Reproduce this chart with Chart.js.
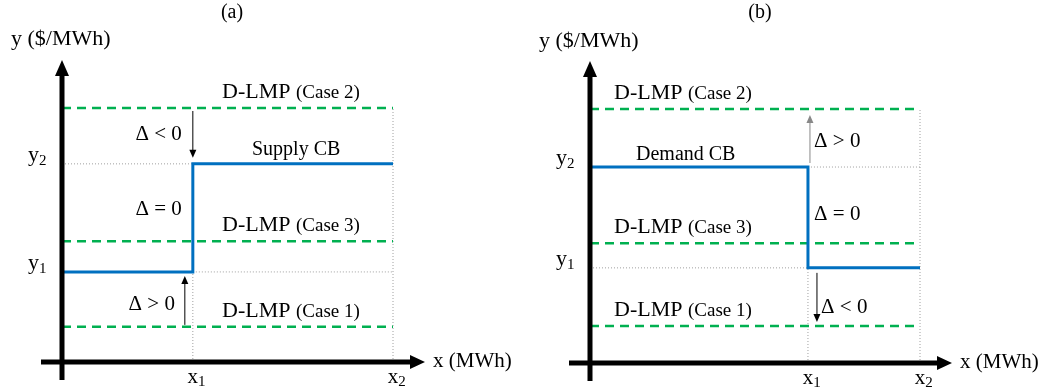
<!DOCTYPE html>
<html>
<head>
<meta charset="utf-8">
<script src="https://cdn.jsdelivr.net/npm/chart.js@4.4.0/dist/chart.umd.min.js"></script>
<style>
html, body { margin: 0; padding: 0; background: #fff; }
#wrap { position: relative; width: 1056px; height: 391px; }
canvas { position: absolute; top: 0; }
#panelA { left: 0; }
#panelB { left: 528px; }
</style>
</head>
<body>
<div id="wrap">
  <canvas id="panelA" width="528" height="391"></canvas>
  <canvas id="panelB" width="528" height="391"></canvas>
</div>
<script>
// tick labels: letter + subscript
const xTickLabels = [['x', '1'], ['x', '2']];
const yTickLabels = [['y', '1'], ['y', '2']];
const caseLabels = ['Case 1', 'Case 2', 'Case 3'];
const axisTitles = ['x (MWh)', 'y ($/MWh)'];
const panelTitles = ['(a)', '(b)'];
const curveNames = ['Supply CB', 'Demand CB'];

// panel (a) - supply
const xA = [1, 2.53];             // x1, x2
const yA = [1, 2.2];              // y1, y2
const lmpA = [0.39, 2.82, 1.34];  // D-LMP case 1, 2, 3

// panel (b) - demand
const xB = [1, 1.514];
const yB = [1, 2.06];
const lmpB = [0.39, 2.67, 1.26];

const FONT = "'Liberation Serif', 'Times New Roman', serif";
const GREEN = '#00b050';
const BLUE = '#0070c0';
const GUIDE = '#a0a0a0';

function drawRuns(ctx, runs, x, y, align) {
    let total = 0;
    runs.forEach(r => {
        ctx.font = r.size + 'px ' + FONT;
        r.w = ctx.measureText(r.t).width;
        total += r.w;
    });
    if (align === 'right') x -= total;
    if (align === 'center') x -= total / 2;
    ctx.textBaseline = 'alphabetic';
    ctx.textAlign = 'left';
    runs.forEach(r => {
        ctx.font = r.size + 'px ' + FONT;
        ctx.fillStyle = r.color || '#000';
        ctx.fillText(r.t, x, y + (r.dy || 0));
        x += r.w;
    });
}

function arrow(ctx, x, y0, y1, color) {
    const dir = y1 > y0 ? 1 : -1;
    ctx.strokeStyle = color;
    ctx.fillStyle = color;
    ctx.lineWidth = 1;
    ctx.setLineDash([]);
    ctx.beginPath();
    ctx.moveTo(x, y0);
    ctx.lineTo(x, y1 - dir * 7);
    ctx.stroke();
    ctx.beginPath();
    ctx.moveTo(x, y1);
    ctx.lineTo(x - 3.5, y1 - dir * 8);
    ctx.lineTo(x + 3.5, y1 - dir * 8);
    ctx.closePath();
    ctx.fill();
}

function line(pts, color, width, dash) {
    return {
        data: pts,
        borderColor: color,
        borderWidth: width,
        borderDash: dash,
        pointRadius: 0,
        fill: false,
        tension: 0,
        clip: false,
        order: 5
    };
}

function makePanel(id, p) {
    const xs = p.xs, ys = p.ys, lmp = p.lmp;
    const datasets = [];
    const step = Object.assign(line(p.step, BLUE, 3, []), { order: 0 });
    datasets.push(step);
    lmp.forEach(v => datasets.push(line([{ x: 0, y: v }, { x: xs[1], y: v }], GREEN, 2.5, [9, 6])));
    p.guides.forEach(g => datasets.push(line(g, GUIDE, 1, [1, 2])));

    const sketch = {
        id: 'sketch',
        afterDatasetsDraw(chart) {
            const c = chart.ctx;
            const sx = chart.scales.x, sy = chart.scales.y;
            const ox = sx.getPixelForValue(0), oy = sy.getPixelForValue(0);
            const x2 = sx.getPixelForValue(xs[1]);
            const top = sy.getPixelForValue(lmp[1]);
            c.save();
            c.setLineDash([]);
            // axes with arrow heads
            c.strokeStyle = '#000';
            c.fillStyle = '#000';
            c.lineWidth = 5;
            c.beginPath();
            c.moveTo(ox, oy + 18);
            c.lineTo(ox, top - 33);
            c.moveTo(ox - 21, oy);
            c.lineTo(x2 + 18, oy);
            c.stroke();
            c.beginPath();
            c.moveTo(ox, top - 48);
            c.lineTo(ox - 7, top - 32);
            c.lineTo(ox + 7, top - 32);
            c.closePath();
            c.fill();
            c.beginPath();
            c.moveTo(x2 + 32, oy);
            c.lineTo(x2 + 17, oy - 7);
            c.lineTo(x2 + 17, oy + 7);
            c.closePath();
            c.fill();

            // titles
            drawRuns(c, [{ t: p.title, size: 20 }], ox + 170, 18, 'center');
            drawRuns(c, [{ t: axisTitles[1], size: 22 }], ox - 51, p.yTitleBase, 'left');
            drawRuns(c, [{ t: axisTitles[0], size: 21 }], x2 + 40, oy + 5, 'left');

            // tick labels
            xTickLabels.forEach((lab, i) => {
                const px = sx.getPixelForValue(xs[i]);
                c.font = '21px ' + FONT;
                const w = c.measureText(lab[0]).width;
                drawRuns(c, [{ t: lab[0], size: 21 }, { t: lab[1], size: 15, dy: 3 }], px - w / 2, oy + 21, 'left');
            });
            yTickLabels.forEach((lab, i) => {
                const py = sy.getPixelForValue(ys[i]);
                drawRuns(c, [{ t: lab[0], size: 22 }, { t: lab[1], size: 15, dy: 4 }], ox - 34, py - 3, 'left');
            });

            // case labels
            lmp.forEach((v, i) => {
                const py = sy.getPixelForValue(v);
                drawRuns(c, [{ t: 'D-LMP ', size: 22 }, { t: '(' + caseLabels[i] + ')', size: 19 }], ox + p.caseDx, py - 10, 'left');
            });

            // curve name
            drawRuns(c, [{ t: p.name, size: 20 }], ox + p.nameDx, sy.getPixelForValue(ys[1]) + p.nameDy, 'left');

            // delta notes
            p.notes.forEach(n => {
                drawRuns(c, [{ t: n.t, size: 21 }], sx.getPixelForValue(n.x), sy.getPixelForValue(n.y), n.align);
            });

            // delta arrows
            p.arrows.forEach(a => {
                const ax = sx.getPixelForValue(xs[0]) + a.dx;
                arrow(c, ax, sy.getPixelForValue(a.from) + a.fromDy, sy.getPixelForValue(a.to) + a.toDy, a.color);
            });
            c.restore();
        }
    };

    const ctx = document.getElementById(id).getContext('2d');
    return new Chart(ctx, {
        type: 'line',
        data: { datasets: datasets },
        options: {
            responsive: false,
            animation: false,
            events: [],
            layout: { padding: p.pad },
            scales: {
                x: { type: 'linear', min: 0, max: xs[1], display: false },
                y: { type: 'linear', min: 0, max: lmp[1], display: false }
            },
            plugins: {
                legend: { display: false },
                tooltip: { enabled: false },
                title: { display: false }
            }
        },
        plugins: [sketch]
    });
}

makePanel('panelA', {
    xs: xA, ys: yA, lmp: lmpA,
    title: panelTitles[0],
    name: curveNames[0], nameDx: 190, nameDy: -9,
    caseDx: 160,
    yTitleBase: 45,
    pad: { left: 62, right: 135, top: 108, bottom: 29 },
    step: [{ x: 0, y: yA[0] }, { x: xA[0], y: yA[0] }, { x: xA[0], y: yA[1] }, { x: xA[1], y: yA[1] }],
    guides: [
        [{ x: 0, y: yA[1] }, { x: xA[1], y: yA[1] }],
        [{ x: xA[0], y: yA[0] }, { x: xA[1], y: yA[0] }],
        [{ x: xA[0], y: 0 }, { x: xA[0], y: yA[0] }],
        [{ x: xA[1], y: 0 }, { x: xA[1], y: lmpA[1] }]
    ],
    notes: [
        { t: '\u0394 < 0', x: 0.916, y: 2.47, align: 'right' },
        { t: '\u0394 = 0', x: 0.916, y: 1.63, align: 'right' },
        { t: '\u0394 > 0', x: 0.863, y: 0.58, align: 'right' }
    ],
    arrows: [
        { from: lmpA[1], fromDy: 3, to: yA[1], toDy: -6, dx: 0, color: '#000' },
        { from: lmpA[0], fromDy: -2, to: yA[0], toDy: 4, dx: -8, color: '#000' }
    ]
});

makePanel('panelB', {
    xs: xB, ys: yB, lmp: lmpB,
    title: panelTitles[1],
    name: curveNames[1], nameDx: 46, nameDy: -7,
    caseDx: 24,
    yTitleBase: 47,
    pad: { left: 62, right: 136, top: 109, bottom: 28 },
    step: [{ x: 0, y: yB[1] }, { x: xB[0], y: yB[1] }, { x: xB[0], y: yB[0] }, { x: xB[1], y: yB[0] }],
    guides: [
        [{ x: xB[0], y: yB[1] }, { x: xB[1], y: yB[1] }],
        [{ x: 0, y: yB[0] }, { x: xB[0], y: yB[0] }],
        [{ x: xB[0], y: 0 }, { x: xB[0], y: yB[0] }],
        [{ x: xB[1], y: 0 }, { x: xB[1], y: lmpB[1] }]
    ],
    notes: [
        { t: '\u0394 > 0', x: 1.028, y: 2.27, align: 'left' },
        { t: '\u0394 = 0', x: 1.028, y: 1.505, align: 'left' },
        { t: '\u0394 < 0', x: 1.06, y: 0.526, align: 'left' }
    ],
    arrows: [
        { from: yB[1], fromDy: -4, to: lmpB[1], toDy: 6, dx: 2, color: '#888' },
        { from: yB[0], fromDy: 5, to: lmpB[0], toDy: -4, dx: 9, color: '#000' }
    ]
});
</script>
</body>
</html>
